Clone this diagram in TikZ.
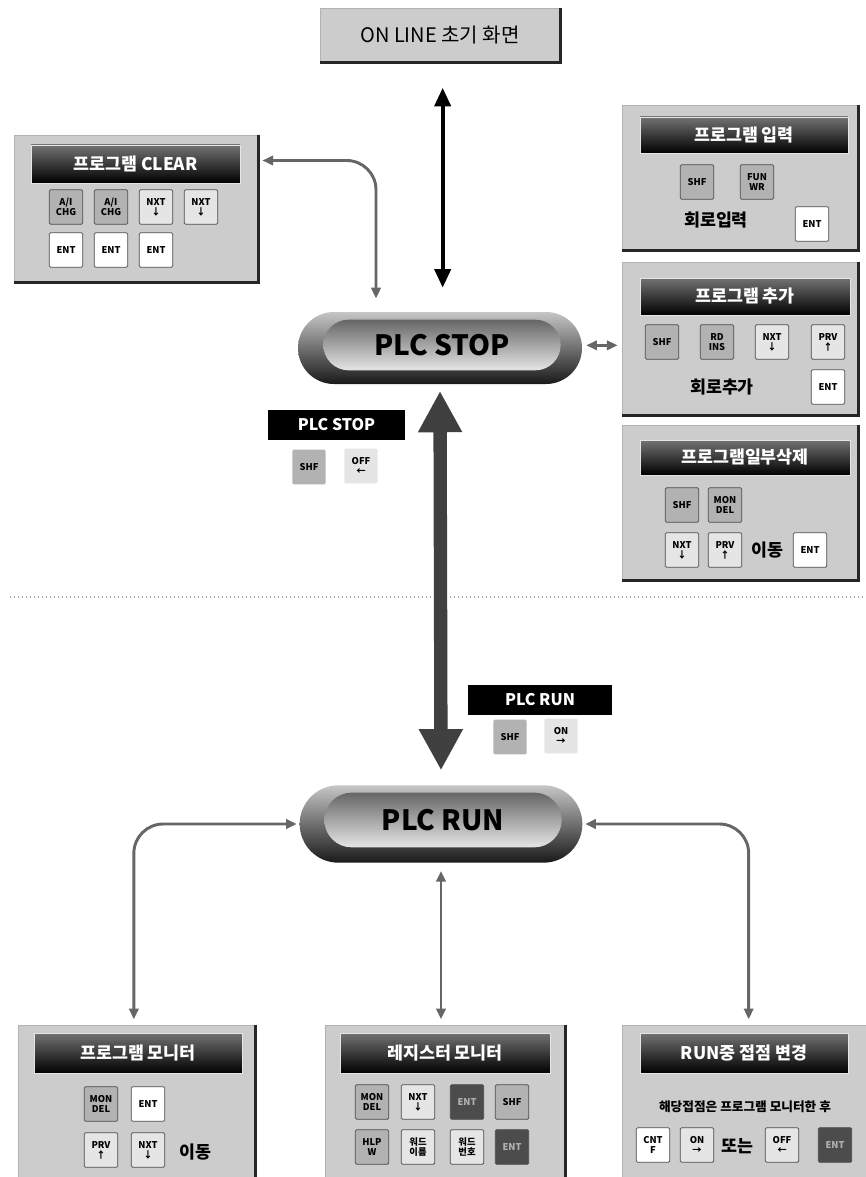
\documentclass[tikz,border=0pt]{standalone}
\usepackage{fontspec}
\setmainfont{Noto Sans CJK KR}
\usepackage{tikz}
\usetikzlibrary{arrows.meta,positioning,fit,shapes.misc}

\begin{document}
\begin{tikzpicture}[
  x=0.75pt, y=-0.75pt,
  panel/.style={draw=gray!60, fill=gray!40, inner sep=0pt, line width=0.6pt},
  edge/.style={line width=2pt, black!85},
  titlebar/.style={draw=gray!20, inner sep=0pt, top color=black!55, bottom color=black,
                   line width=0.6pt},
  ttl/.style={text=white, font=\fontsize{13}{15}\selectfont\bfseries},
  lblbar/.style={fill=black, inner sep=0pt},
  keybase/.style={draw=black!70, rounded corners=1pt, minimum width=25pt, minimum height=26pt,
                  inner sep=0.5pt, align=center, line width=0.6pt,
                  font=\fontsize{7}{7.6}\selectfont\bfseries},
  keymid/.style={keybase, fill=gray!60},
  keylight/.style={keybase, fill=gray!20},
  keywhite/.style={keybase, fill=white},
  keydark/.style={keybase, fill=black!70, text=gray!60},
  body/.style={font=\fontsize{13}{15}\selectfont\bfseries},
  capsule/.style={rounded rectangle, draw=none, inner sep=0pt},
  grayarr/.style={{Triangle[length=8pt,width=7pt]}-{Triangle[length=8pt,width=7pt]},
                  line width=2.2pt, draw=black!60, rounded corners=22pt},
  bigarr/.style={{Triangle[length=31pt,width=31pt]}-{Triangle[length=31pt,width=31pt]},
                 line width=10pt, draw=black!75},
  toparr/.style={{Triangle[length=14pt,width=12pt]}-{Triangle[length=14pt,width=12pt]},
                 line width=3pt}
]
\clip (0,0) rectangle (866,1177);
\fill[white] (0,0) rectangle (866,1177);

% top screen
\node[panel, fit={(320,8) (560,62)}, label={[font=\fontsize{15}{17}\selectfont]center:ON LINE 초기 화면}] (online) {};

% PLC STOP / PLC RUN
\node[capsule, minimum width=213pt, minimum height=54pt, top color=gray!45, bottom color=black!90] (stop) at (440,348) {};
\node[capsule, minimum width=178pt, minimum height=38pt, top color=black!60, middle color=white, bottom color=white!90!black,
      font=\fontsize{21}{24}\selectfont\bfseries] (stopface) at (442,345) {PLC STOP};
\node[capsule, minimum width=212pt, minimum height=58pt, top color=gray!45, bottom color=black!90] (run) at (441,824) {};
\node[capsule, minimum width=178pt, minimum height=41pt, top color=black!60, middle color=white, bottom color=white!90!black,
      font=\fontsize{21}{24}\selectfont\bfseries] (runface) at (443,820) {PLC RUN};

% program clear
\node[panel, fit={(14,135) (258,282)}] (clear) {};
\node[titlebar, fit={(31,145) (240,183)}, label={[ttl]center:프로그램 CLEAR}] (clearttl) {};
\node[keymid] (clr1) at (66,207) {A/I\\CHG};
\node[keymid] (clr2) at (111,207) {A/I\\CHG};
\node[keylight] (clr3) at (156,207) {NXT\\↓};
\node[keylight] (clr4) at (201,207) {NXT\\↓};
\node[keywhite] (clr5) at (66,250) {ENT};
\node[keywhite] (clr6) at (111,250) {ENT};
\node[keywhite] (clr7) at (156,250) {ENT};

% program input
\node[panel, fit={(622,105) (858,250)}] (input) {};
\node[titlebar, fit={(640,117) (848,153)}, label={[ttl]center:프로그램 입력}] (inputttl) {};
\node[keymid] (in1) at (697,182) {SHF};
\node[keymid] (in2) at (757,182) {FUN\\WR};
\node[body] (inlbl) at (716,220) {회로입력};
\node[keywhite] (in3) at (812,224) {ENT};

% program add
\node[panel, fit={(622,262) (858,415)}] (add) {};
\node[titlebar, fit={(640,278) (850,315)}, label={[ttl]center:프로그램 추가}] (addttl) {};
\node[keymid] (ad1) at (662,342) {SHF};
\node[keymid] (ad2) at (717,342) {RD\\INS};
\node[keylight] (ad3) at (772,342) {NXT\\↓};
\node[keylight] (ad4) at (828,342) {PRV\\↑};
\node[body] (adlbl) at (722,387) {회로추가};
\node[keywhite] (ad5) at (828,387) {ENT};

% partial delete
\node[panel, fit={(622,425) (858,580)}] (del) {};
\node[titlebar, fit={(640,440) (850,475)}, label={[ttl]center:프로그램일부삭제}] (delttl) {};
\node[keymid] (dl1) at (682,505) {SHF};
\node[keymid] (dl2) at (725,505) {MON\\DEL};
\node[keylight] (dl3) at (682,550) {NXT\\↓};
\node[keylight] (dl4) at (725,550) {PRV\\↑};
\node[body] (dllbl) at (767,550) {이동};
\node[keywhite] (dl5) at (810,550) {ENT};

% mode change labels
\node[lblbar, fit={(268,410) (405,440)}, label={[ttl, font=\fontsize{12}{14}\selectfont\bfseries]center:PLC STOP}] (stopbar) {};
\node[keymid, draw=none] (stk1) at (309,467) {SHF};
\node[keylight, draw=none] (stk2) at (361,466) {OFF\\←};
\node[lblbar, fit={(468,685) (612,715)}, label={[ttl, font=\fontsize{12}{14}\selectfont\bfseries]center:PLC RUN}] (runbar) {};
\node[keymid, draw=none] (rnk1) at (510,737) {SHF};
\node[keylight, draw=none] (rnk2) at (561,736) {ON\\→};

% program monitor
\node[panel, fit={(18,1025) (255,1190)}] (pmon) {};
\node[titlebar, fit={(34,1033) (242,1073)}, label={[ttl]center:프로그램 모니터}] (pmonttl) {};
\node[keymid] (pm1) at (101,1104) {MON\\DEL};
\node[keywhite] (pm2) at (148,1104) {ENT};
\node[keylight] (pm3) at (101,1150) {PRV\\↑};
\node[keylight] (pm4) at (148,1150) {NXT\\↓};
\node[body] (pmlbl) at (195,1152) {이동};

% register monitor
\node[panel, fit={(325,1025) (565,1190)}] (reg) {};
\node[titlebar, fit={(340,1033) (550,1073)}, label={[ttl]center:레지스터 모니터}] (regttl) {};
\node[keymid] (rg1) at (372,1102) {MON\\DEL};
\node[keylight] (rg2) at (418,1102) {NXT\\↓};
\node[keydark] (rg3) at (467,1102) {ENT};
\node[keymid] (rg4) at (512,1102) {SHF};
\node[keymid] (rg5) at (372,1147) {HLP\\W};
\node[keylight] (rg6) at (418,1147) {워드\\이름};
\node[keylight] (rg7) at (467,1147) {워드\\번호};
\node[keydark] (rg8) at (512,1147) {ENT};

% contact change in RUN
\node[panel, fit={(622,1025) (870,1190)}] (rcon) {};
\node[titlebar, fit={(640,1033) (848,1073)}, label={[ttl]center:RUN중 접점 변경}] (rconttl) {};
\node[font=\fontsize{9.5}{11}\selectfont\bfseries] (rclbl) at (745,1107) {해당접점은 프로그램 모니터한 후};
\node[keywhite] (rc1) at (653,1145) {CNT\\F};
\node[keylight] (rc2) at (697,1145) {ON\\→};
\node[body] (rcor) at (737,1146) {또는};
\node[keylight] (rc3) at (782,1145) {OFF\\←};
\node[keydark] (rc4) at (835,1145) {ENT};

% dark right/bottom edges
\foreach \p in {online,clear,input,add,del,pmon,reg,rcon}
  \draw[edge] (\p.north east) -- (\p.south east) -- (\p.south west);

% STOP / RUN border
\draw[dotted, line width=1pt, gray!70] (10,597) -- (866,597);

% connectors
\draw[toparr] ([xshift=2pt,yshift=-19pt]online.south) -- ([xshift=2pt,yshift=18pt]stop.north);
\draw[grayarr] ([xshift=-48pt,yshift=10pt]stop.north) |- ([xshift=3pt,yshift=36pt]clear.east);
\draw[grayarr, line width=1.8pt] ([xshift=3pt,yshift=2pt]stop.east) -- ([xshift=-3pt,yshift=2pt]stop.east -| add.west);
\draw[bigarr] ([yshift=-5pt]stop.south) -- ([yshift=11pt]run.north);
\draw[grayarr] ([xshift=-2pt]run.west) -| ([xshift=-2pt,yshift=4pt]pmon.north);
\draw[grayarr] ([yshift=-6pt]run.south) -- ([yshift=4pt]run.south |- reg.north);
\draw[grayarr] ([xshift=2pt]run.east) -| ([xshift=2pt,yshift=4pt]rcon.north);
\end{tikzpicture}
\end{document}
